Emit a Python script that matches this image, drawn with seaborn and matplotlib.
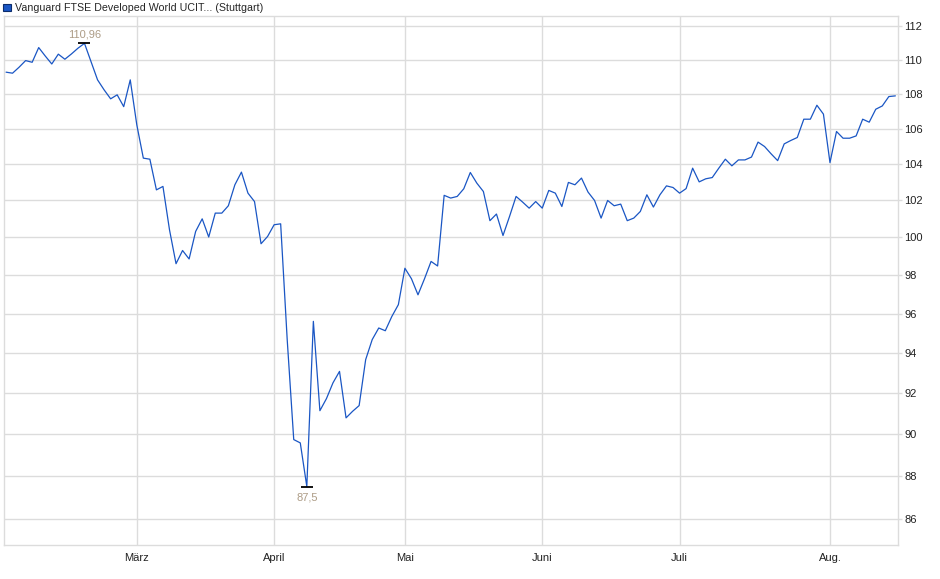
import matplotlib
matplotlib.use("Agg")
import matplotlib.pyplot as plt
from matplotlib.patches import Patch
from matplotlib.ticker import FixedLocator, FixedFormatter, NullLocator
import seaborn as sns
import pandas as pd

# closing prices, one per trading day (Feb 3 .. Aug 15)
PRICES = [
    109.26, 109.20, 109.55, 109.94, 109.84, 110.71, 110.21, 109.74, 110.32, 110.02,
    110.33, 110.67, 110.96, 109.88, 108.81, 108.23, 107.71, 107.94, 107.26, 108.81,
    106.22, 104.34, 104.28, 102.58, 102.77, 100.41, 98.60, 99.30, 98.85, 100.32,
    101.00, 100.02, 101.31, 101.31, 101.71, 102.86, 103.56, 102.40, 101.94, 99.66,
    100.05, 100.68, 100.73, 94.67, 89.73, 89.57, 87.50, 95.60, 91.13, 91.72,
    92.50, 93.07, 90.78, 91.10, 91.38, 93.66, 94.67, 95.26, 95.12, 95.85,
    96.46, 98.36, 97.81, 96.97, 97.81, 98.72, 98.48, 102.28, 102.13, 102.22,
    102.64, 103.54, 102.95, 102.49, 100.90, 101.26, 100.10, 101.13, 102.22, 101.91,
    101.58, 101.94, 101.58, 102.55, 102.40, 101.67, 102.99, 102.86, 103.23, 102.46,
    102.00, 101.04, 102.00, 101.71, 101.80, 100.90, 101.04, 101.40, 102.31, 101.64,
    102.31, 102.80, 102.71, 102.40, 102.65, 103.78, 103.02, 103.19, 103.26, 103.78,
    104.28, 103.91, 104.24, 104.24, 104.40, 105.24, 104.99, 104.58, 104.20, 105.14,
    105.33, 105.50, 106.54, 106.54, 107.34, 106.83, 104.09, 105.84, 105.46, 105.46,
    105.59, 106.54, 106.37, 107.11, 107.30, 107.84, 107.88,
]

# first trading day of each month (index into PRICES)
MONTH_START_IDX = [20, 41, 61, 82, 103, 126]
MONTH_LABELS = ["März", "April", "Mai", "Juni", "Juli", "Aug."]

Y_TICKS = [86, 88, 90, 92, 94, 96, 98, 100, 102, 104, 106, 108, 110, 112]

SERIES_NAME = "Vanguard FTSE Developed World UCIT... (Stuttgart)"

LINE_COLOR = "#1a56c4"
GRID_COLOR = "#dcdcdc"
ANNOT_COLOR = "#ad9c86"


def main():
    df = pd.DataFrame({"day": range(len(PRICES)), "price": PRICES})

    sns.set_theme(style="white")
    plt.rcParams["font.family"] = ["Liberation Sans", "DejaVu Sans"]

    fig = plt.figure(figsize=(9.4, 5.79), dpi=100)
    ax = fig.add_axes([0.0043, 0.0587, 0.9510, 0.9137])

    sns.lineplot(data=df, x="day", y="price", ax=ax, color=LINE_COLOR, linewidth=0.9)

    ax.set_yscale("log")
    ax.set_ylim(84.8, 112.6)
    ax.set_xlim(-0.3, len(PRICES) - 0.6)

    ax.yaxis.set_major_locator(FixedLocator(Y_TICKS))
    ax.yaxis.set_major_formatter(FixedFormatter([str(t) for t in Y_TICKS]))
    ax.yaxis.set_minor_locator(NullLocator())
    ax.yaxis.tick_right()

    ax.set_xticks(MONTH_START_IDX)
    ax.set_xticklabels(MONTH_LABELS)

    ax.grid(True, color=GRID_COLOR, linewidth=1.0)
    ax.set_axisbelow(True)
    for sp in ax.spines.values():
        sp.set_color(GRID_COLOR)
        sp.set_linewidth(1.0)

    ax.tick_params(axis="both", length=3, width=1, color=GRID_COLOR,
                   labelsize=8, labelcolor="#222222")
    ax.tick_params(axis="y", pad=1.5)
    ax.tick_params(axis="x", pad=3)
    ax.set_xlabel("")
    ax.set_ylabel("")

    # high / low markers
    hi = df.loc[df["price"].idxmax()]
    lo = df.loc[df["price"].idxmin()]
    ax.plot([hi["day"]], [hi["price"]], marker="_", markersize=9, color="black", mew=1.3)
    ax.plot([lo["day"]], [lo["price"]], marker="_", markersize=9, color="black", mew=1.3)
    ax.annotate(f"{hi['price']:.2f}".replace(".", ","), (hi["day"], hi["price"]),
                xytext=(0, 3), textcoords="offset points", ha="center", va="bottom",
                fontsize=8, color=ANNOT_COLOR)
    ax.annotate(f"{lo['price']:g}".replace(".", ","), (lo["day"], lo["price"]),
                xytext=(0, -4), textcoords="offset points", ha="center", va="top",
                fontsize=8, color=ANNOT_COLOR)

    handle = Patch(facecolor=LINE_COLOR, edgecolor="#0c2c6c", linewidth=0.8)
    fig.legend([handle], [SERIES_NAME], loc="upper left", bbox_to_anchor=(0.0, 1.0),
               frameon=False, fontsize=7.7, handlelength=0.7, handleheight=0.7,
               handletextpad=0.4, borderpad=0.2, borderaxespad=0.1)

    fig.savefig("out.png", dpi=100)


if __name__ == "__main__":
    main()
